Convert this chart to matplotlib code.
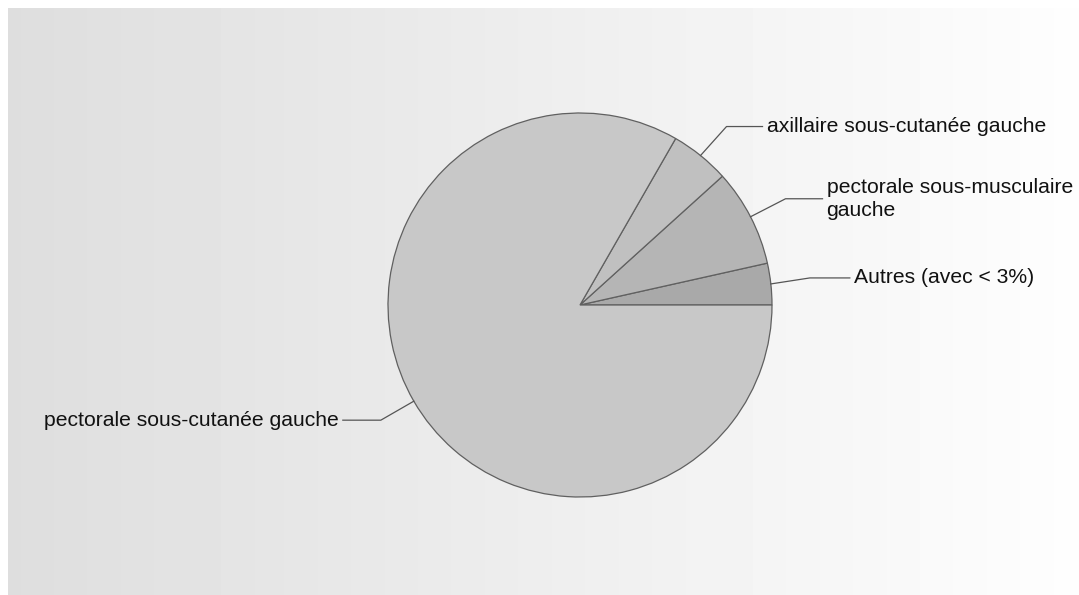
import numpy as np
import matplotlib
matplotlib.use("Agg")
import matplotlib.pyplot as plt

# Data
categories = ["Autres (avec < 3%)", "pectorale sous-musculaire\ngauche",
              "axillaire sous-cutanée gauche", "pectorale sous-cutanée gauche"]
values = [3.5, 8.2, 5.0, 83.3]
colors = ["#a9a9a9", "#b5b5b5", "#c0c0c0", "#c8c8c8"]

W, H = 1079, 595
fig = plt.figure(figsize=(W / 100, H / 100), dpi=100)
fig.patch.set_facecolor("white")

# Background gradient panel
bg = fig.add_axes([8 / W, 0, 1 - 8 / W, (H - 8) / H])
grad = np.linspace(0.87, 0.995, 256).reshape(1, -1)
bg.imshow(grad, aspect="auto", cmap="gray", vmin=0, vmax=1, extent=[0, 1, 0, 1])
bg.set_axis_off()

# Pie axes covering the figure, in pixel-like coordinates (y up)
ax = fig.add_axes([0, 0, 1, 1])
ax.set_facecolor("none")
cx, cy, r = 580, H - 305, 192
wedges, _ = ax.pie(values, colors=colors, startangle=0, counterclock=True,
                   center=(cx, cy), radius=r,
                   wedgeprops=dict(edgecolor="#606060", linewidth=0.9))
ax.set_xlim(0, W)
ax.set_ylim(0, H)
ax.set_aspect("equal")
ax.set_axis_off()

# label layout: (elbow dx, elbow dy, horizontal length, side)
layout = [
    (39, 6, 40, 1),     # Autres
    (35, 18, 37, 1),    # sous-musculaire
    (26, 29, 36, 1),    # axillaire
    (-33, -19, -38, -1) # sous-cutanee
]
for w, lab, (edx, edy, hl, side) in zip(wedges, categories, layout):
    mid = np.deg2rad((w.theta1 + w.theta2) / 2)
    sx, sy = cx + r * np.cos(mid), cy + r * np.sin(mid)
    ex, ey = sx + edx, sy + edy
    hx = ex + hl
    ax.plot([sx, ex, hx], [sy, ey, ey], color="#555555", lw=0.9)
    ax.text(hx + 4 * side, ey, lab, ha="left" if side > 0 else "right",
            va="center", fontsize=15.2, family="Liberation Sans", color="#111111",
            linespacing=1.25)

fig.savefig("out.png", dpi=100)
